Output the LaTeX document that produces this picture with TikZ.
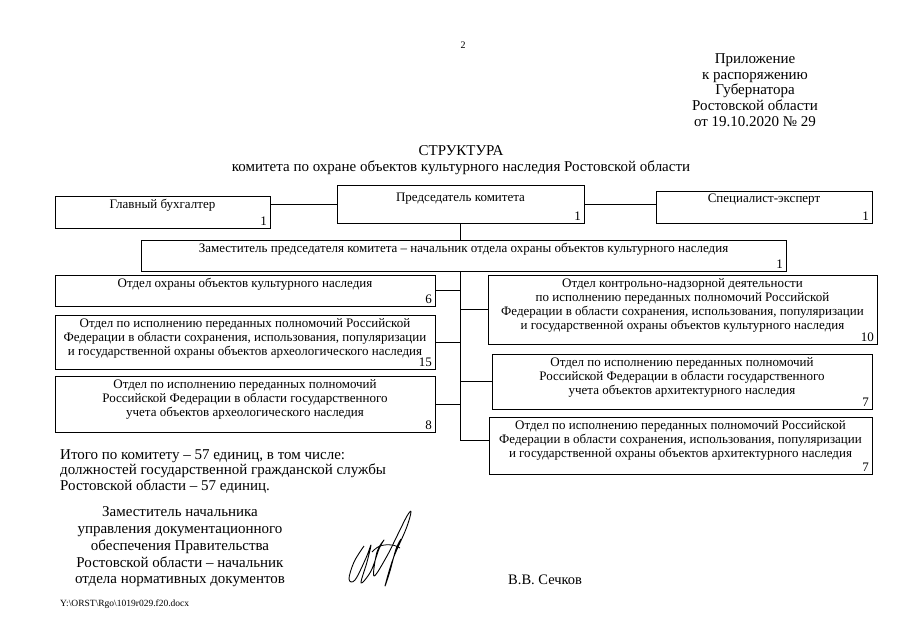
\documentclass[tikz,border=0pt]{standalone}
\usepackage{fontspec}
\setmainfont{Liberation Serif}
\usetikzlibrary{positioning}

\begin{document}
\begin{tikzpicture}[
    x=1pt, y=-1pt,
    unit/.style={draw, line width=0.6pt, inner sep=0pt, outer sep=0pt, anchor=north west},
    title/.style={anchor=north, inner sep=0pt, yshift=-3pt, align=center, font=\fontsize{13}{14}\selectfont},
    staff/.style={anchor=south east, inner sep=0pt, xshift=-3pt, yshift=2.5pt, font=\fontsize{13}{14}\selectfont},
    link/.style={draw, line width=0.6pt},
    plain/.style={inner sep=0pt, align=center, font=\fontsize{15}{15.7}\selectfont}
]
\useasboundingbox (0,0) rectangle (905,640);

% header
\node[plain, font=\fontsize{10}{11}\selectfont] (pageno) at (463,45) {2};
\node[plain] (annex) at (755,90) {Приложение\\к распоряжению\\Губернатора\\Ростовской области\\от 19.10.2020 № 29};
\node[plain, font=\fontsize{15}{16}\selectfont] (heading) at (461,160) {СТРУКТУРА\\комитета по охране объектов культурного наследия Ростовской области};

% top level
\node[unit, minimum width=247pt, minimum height=38pt,
      label={[title, yshift=-5pt]north:Председатель комитета}, label={[staff]south east:1}] (chair) at (337,185) {};
\node[unit, minimum width=215pt, minimum height=32pt,
      label={[title]north:Главный бухгалтер}, label={[staff]south east:1}] (acct) at (55,196) {};
\node[unit, minimum width=216pt, minimum height=32pt,
      label={[title]north:Специалист-эксперт}, label={[staff]south east:1}] (expert) at (656,191) {};
\node[unit, minimum width=645pt, minimum height=31pt,
      label={[title]north:Заместитель председателя комитета – начальник отдела охраны объектов культурного наследия},
      label={[staff]south east:1}] (deputy) at (141,240) {};

% left column
\node[unit, minimum width=380pt, minimum height=31pt,
      label={[title]north:Отдел охраны объектов культурного наследия}, label={[staff]south east:6}] (dep1) at (55,275) {};
\node[unit, minimum width=380pt, minimum height=54pt, below=9pt of dep1.south west, anchor=north west,
      label={[title]north:{Отдел по исполнению переданных полномочий Российской\\Федерации в области сохранения, использования, популяризации\\и государственной охраны объектов археологического наследия}},
      label={[staff]south east:15}] (dep2) {};
\node[unit, minimum width=380pt, minimum height=56pt, below=7pt of dep2.south west, anchor=north west,
      label={[title]north:{Отдел по исполнению переданных полномочий\\Российской Федерации в области государственного\\учета объектов археологического наследия}},
      label={[staff]south east:8}] (dep3) {};

% right column
\node[unit, minimum width=389pt, minimum height=69pt,
      label={[title]north:{Отдел контрольно-надзорной деятельности\\по исполнению переданных полномочий Российской\\Федерации в области сохранения, использования, популяризации\\и государственной охраны объектов культурного наследия}},
      label={[staff]south east:10}] (r1) at (488,275) {};
\node[unit, minimum width=380pt, minimum height=55pt,
      label={[title]north:{Отдел по исполнению переданных полномочий\\Российской Федерации в области государственного\\учета объектов архитектурного наследия}},
      label={[staff]south east:7}] (r2) at (492,354) {};
\node[unit, minimum width=383pt, minimum height=57pt,
      label={[title]north:{Отдел по исполнению переданных полномочий Российской\\Федерации в области сохранения, использования, популяризации\\и государственной охраны объектов архитектурного наследия}},
      label={[staff]south east:7}] (r3) at (489,417) {};

% connectors
\coordinate (trunk) at (deputy.south -| chair.south);
\draw[link] (chair.west) -- (chair.west -| acct.east);
\draw[link] (chair.east) -- (chair.east -| expert.west);
\draw[link] (chair.south) -- (chair.south |- deputy.north);
\draw[link] (trunk) |- (dep1.east);
\draw[link] (trunk) |- (dep2.east);
\draw[link] (trunk) |- (dep3.east);
\draw[link] (trunk) |- (r1.west);
\draw[link] (trunk) |- (r2.west);
\draw[link] (trunk) |- ([yshift=5pt]r3.west);

% totals and signature
\node[plain, anchor=north west, align=left, font=\fontsize{15}{15.5}\selectfont] (total) at (60,449)
    {Итого по комитету – 57 единиц, в том числе:\\должностей государственной гражданской службы\\Ростовской области – 57 единиц.};
\node[plain, font=\fontsize{15}{16.7}\selectfont] (signer) at (180,547)
    {Заместитель начальника\\управления документационного\\обеспечения Правительства\\Ростовской области – начальник\\отдела нормативных документов};
\node[plain, anchor=west, font=\fontsize{14.5}{16}\selectfont] (name) at (508,580) {В.В. Сечков};
\node[plain, anchor=west, font=\fontsize{9.5}{10}\selectfont] (docpath) at (60,604) {Y:\textbackslash ORST\textbackslash Rgo\textbackslash 1019r029.f20.docx};

\draw[line width=0.9pt, line join=round] plot[smooth, tension=0.6] coordinates {
    (364,546) (354,562) (349,579) (355,580) (366,558) (371,545) (367,562) (361,583)
    (371,571) (379,549) (384,540) (377,552) (374,576) (387,556) (397,536) (407,516)
    (411,512) (406,529) (393,559) (385,586) (390,571) (396,549) (401,539)};
\draw[line width=0.8pt] plot[smooth, tension=0.7] coordinates {
    (372,552) (380,546) (392,545) (400,548)};
\end{tikzpicture}
\end{document}
